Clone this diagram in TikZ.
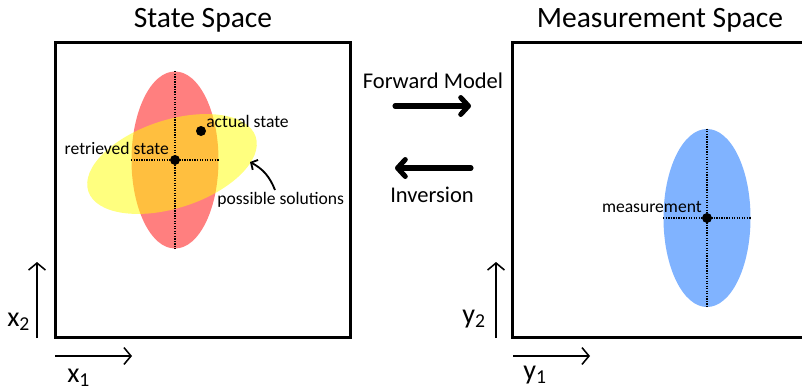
\documentclass[tikz,border=0pt]{standalone}
\usepackage{fontspec}
\setmainfont{Carlito}
\usepackage{xcolor}
\usetikzlibrary{arrows.meta, positioning, shapes.geometric}
\definecolor{stateRed}{RGB}{255,0,0}
\definecolor{solYellow}{RGB}{255,255,0}
\definecolor{measBlue}{RGB}{128,179,255}
\tikzset{
  frame/.style={rectangle, draw=black, line width=2.1pt, inner sep=0pt},
  cloud/.style={ellipse, draw=none, inner sep=0pt},
  guide/.style={dash pattern=on 0.9pt off 0.9pt, line width=0.9pt},
  dot/.style={circle, fill=black, inner sep=0pt, minimum size=0.25cm},
  heading/.style={font=\fontsize{21}{25}\selectfont, anchor=base},
  modeltag/.style={font=\fontsize{16}{19}\selectfont, anchor=base},
  tag/.style={font=\fontsize{12.5}{15}\selectfont, inner sep=0pt},
  axistag/.style={font=\fontsize{20}{24}\selectfont, anchor=base west, inner sep=0pt},
  axis/.style={-{Straight Barb[length=5pt, width=12pt]}, line width=1.1pt},
  bigarrow/.style={-{Straight Barb[length=5.5pt, width=12pt, round]}, line width=3.6pt, line cap=round},
}

\begin{document}
\begin{tikzpicture}[x=0.025cm, y=0.025cm]
\useasboundingbox (0,0) rectangle (802,391);

% state space
\node[frame, minimum width=7.35cm, minimum height=7.35cm] (sbox) at (203,201) {};
\node[heading] (stitle) at (203,364) {State Space};
\node[cloud, fill=stateRed, fill opacity=0.5, minimum width=2.175cm, minimum height=4.425cm] (red) at (175,231) {};
\node[cloud, fill=solYellow, fill opacity=0.5, minimum width=4.4cm, minimum height=2.2cm, rotate=18] (yellow) at (172,227) {};
\draw[guide] (red.north) -- (red.south);
\draw[guide] (red.west) -- (red.east);
\node[dot] (retr) at (red.center) {};
\node[dot] (actual) at (201,260) {};
\node[tag, anchor=base west] (actualtag) at (206,264) {actual state};
\node[tag, anchor=base east] (retrtag) at (169,237) {retrieved state};
\node[tag, anchor=base west] (soltag) at (217,187) {possible solutions};
\coordinate (soltail) at (275,201);
\coordinate (soltip) at (250,229);
\draw[-{Straight Barb[length=3.5pt, width=8pt]}, line width=1.3pt] (soltail) to[bend right=20] (soltip);

% axes of the state space
\coordinate (x2a) at (37,53);
\coordinate (x2b) at (37,129);
\draw[axis] (x2a) -- (x2b);
\node[axistag] (x2tag) at (7,65) {x\textsubscript{2}};
\coordinate (x1a) at (55,35);
\coordinate (x1b) at (132,35);
\draw[axis] (x1a) -- (x1b);
\node[axistag] (x1tag) at (67,9) {x\textsubscript{1}};

% mapping between the spaces
\node[modeltag] (fwd) at (433,303) {Forward Model};
\node[modeltag] (inv) at (432,189) {Inversion};
\coordinate (fwda) at (395,285);
\coordinate (fwdb) at (471,285);
\coordinate (inva) at (471,223);
\coordinate (invb) at (395,223);
\draw[bigarrow] (fwda) -- (fwdb);
\draw[bigarrow] (inva) -- (invb);

% measurement space
\node[frame, minimum width=7.45cm, minimum height=7.35cm] (mbox) at (662,201) {};
\node[heading] (mtitle) at (660,364) {Measurement Space};
\node[cloud, fill=measBlue, minimum width=2.175cm, minimum height=4.45cm] (blue) at (707,173) {};
\draw[guide] (blue.north) -- (blue.south);
\draw[guide] (blue.west) -- (blue.east);
\node[dot] (meas) at (blue.center) {};
\node[tag, anchor=base east] (meastag) at (702,179) {measurement};

% axes of the measurement space
\coordinate (y2a) at (496,53);
\coordinate (y2b) at (496,129);
\draw[axis] (y2a) -- (y2b);
\node[axistag] (y2tag) at (462,68) {y\textsubscript{2}};
\coordinate (y1a) at (513,35);
\coordinate (y1b) at (590,35);
\draw[axis] (y1a) -- (y1b);
\node[axistag] (y1tag) at (523,12) {y\textsubscript{1}};
\end{tikzpicture}
\end{document}
